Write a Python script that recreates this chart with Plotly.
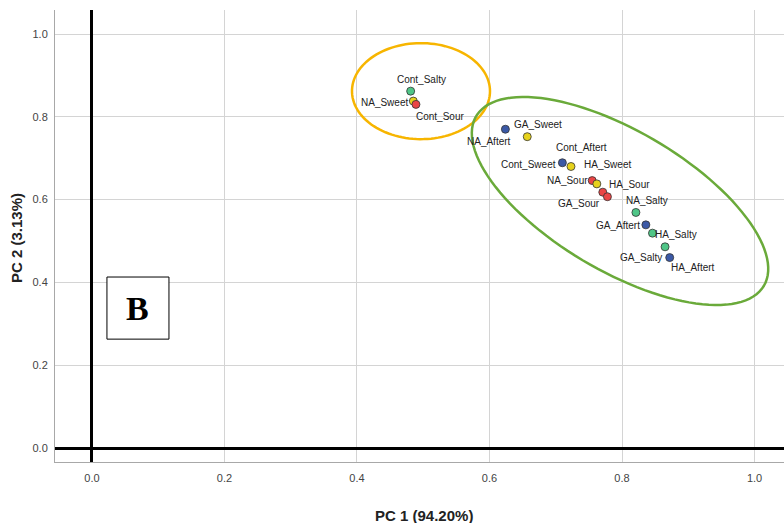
import numpy as np
import plotly.graph_objects as go

# ---- data ----
labels = ["Cont_Salty", "NA_Sweet", "Cont_Sour", "NA_Aftert", "GA_Sweet",
          "Cont_Aftert", "Cont_Sweet", "NA_Sour", "HA_Sweet", "HA_Sour",
          "GA_Sour", "NA_Salty", "GA_Aftert", "HA_Salty", "GA_Salty", "HA_Aftert"]
pc1 = [0.481, 0.485, 0.489, 0.624, 0.657, 0.710, 0.723, 0.755, 0.762, 0.771,
       0.778, 0.821, 0.836, 0.846, 0.865, 0.872]
pc2 = [0.862, 0.838, 0.830, 0.770, 0.752, 0.689, 0.680, 0.646, 0.638, 0.618,
       0.607, 0.569, 0.539, 0.519, 0.486, 0.460]
taste = ["Salty", "Sweet", "Sour", "Aftert", "Sweet", "Aftert", "Sweet", "Sour",
         "Sweet", "Sour", "Sour", "Salty", "Aftert", "Salty", "Salty", "Aftert"]
x_ticks = [0.0, 0.2, 0.4, 0.6, 0.8, 1.0]
y_ticks = [0.0, 0.2, 0.4, 0.6, 0.8, 1.0]

# ---- styles ----
taste_colors = {"Sweet": "#E6D21C", "Sour": "#EA4545", "Salty": "#4FC687", "Aftert": "#3B59A6"}
# label offsets in pixels (dx right, dy up) from each point
label_offsets = {
    "Cont_Salty": (11, 12), "NA_Sweet": (-29, -1), "Cont_Sour": (24, -12),
    "NA_Aftert": (-16, -12), "GA_Sweet": (11, 12), "Cont_Aftert": (19, 15),
    "Cont_Sweet": (-42, 2), "NA_Sour": (-25, 0), "HA_Sweet": (11, 19),
    "HA_Sour": (27, 8), "GA_Sour": (-28, -7), "NA_Salty": (11, 12),
    "GA_Aftert": (-28, -1), "HA_Salty": (24, -1), "GA_Salty": (-24, -11),
    "HA_Aftert": (23, -10),
}

W, H = 784, 523
ML, MR, MT, MB = 55, 0, 10, 61
xr = [-0.0558, 1.0445]
yr = [-0.0338, 1.058]
sx = (W - ML - MR) / (xr[1] - xr[0])
sy = (H - MT - MB) / (yr[1] - yr[0])

fig = go.Figure()
fig.add_trace(go.Scatter(
    x=pc1, y=pc2, mode="markers",
    marker=dict(size=8, color=[taste_colors[t] for t in taste],
                line=dict(color="#333333", width=0.8)),
    hovertext=labels, showlegend=False))

annotations = []
for lab, xv, yv in zip(labels, pc1, pc2):
    dx, dy = label_offsets[lab]
    annotations.append(dict(x=xv, y=yv, xref="x", yref="y", text=lab, showarrow=False,
                            xshift=dx, yshift=dy, xanchor="center", yanchor="middle",
                            font=dict(family="Liberation Sans, Arial", size=10, color="#222222")))

# ellipses
def ellipse_path(cx, cy, a_px, b_px, ang_deg, n=120):
    t = np.linspace(0, 2 * np.pi, n)
    th = np.deg2rad(ang_deg)
    px = a_px * np.cos(t) * np.cos(th) - b_px * np.sin(t) * np.sin(th)
    py = a_px * np.cos(t) * np.sin(th) + b_px * np.sin(t) * np.cos(th)
    xs = cx + px / sx
    ys = cy + py / sy
    return "M " + " L ".join(f"{a:.5f},{b:.5f}" for a, b in zip(xs, ys)) + " Z"

shapes = [
    dict(type="path", path=ellipse_path(0.4966, 0.862, 69, 48, 0), xref="x", yref="y",
         line=dict(color="#F7B500", width=2.5), layer="above"),
    dict(type="path", path=ellipse_path(0.797, 0.5966, 167, 70, -30.5), xref="x", yref="y",
         line=dict(color="#6AAA3A", width=2.5), layer="above"),
    dict(type="rect", x0=0.0226, x1=0.1162, y0=0.263, y1=0.413, xref="x", yref="y",
         fillcolor="white", line=dict(color="black", width=1), layer="above"),
]
annotations.append(dict(x=(0.0226 + 0.1162) / 2, y=(0.263 + 0.413) / 2, xref="x", yref="y",
                        text="<b>B</b>", showarrow=False,
                        font=dict(family="Liberation Serif, Times New Roman", size=34, color="black")))
# axis titles
annotations.append(dict(x=0.5, y=0, xref="paper", yref="paper", xshift=4, yshift=-53,
                        text="<b>PC 1 (94.20%)</b>",
                        showarrow=False, xanchor="center", yanchor="middle",
                        font=dict(family="Liberation Sans, Arial", size=15, color="#222222")))
annotations.append(dict(x=0, y=0.5, xref="paper", yref="paper", xshift=-39, yshift=-2,
                        text="<b>PC 2 (3.13%)</b>",
                        showarrow=False, textangle=-90, xanchor="center", yanchor="middle",
                        font=dict(family="Liberation Sans, Arial", size=15, color="#222222")))

axis_common = dict(showgrid=True, gridcolor="#d4d4d4", gridwidth=1.2,
                   zeroline=True, zerolinecolor="black", zerolinewidth=3,
                   showline=True, linecolor="#a8a8a8", linewidth=1, mirror=False,
                   ticks="", tickfont=dict(family="Liberation Sans, Arial", size=11, color="#444444"),
                   tickformat=".1f")
fig.update_xaxes(range=xr, tickvals=x_ticks, ticklabelstandoff=6, **axis_common)
fig.update_yaxes(range=yr, tickvals=y_ticks, ticklabelstandoff=4, **axis_common)

fig.update_layout(width=W, height=H, margin=dict(l=ML, r=MR, t=MT, b=MB),
                  plot_bgcolor="white", paper_bgcolor="white",
                  shapes=shapes, annotations=annotations, showlegend=False)
fig.write_html("out.html")
